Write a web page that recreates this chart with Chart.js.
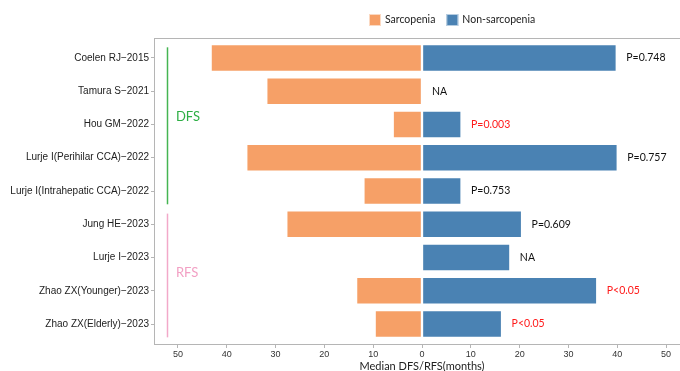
<!DOCTYPE html>
<html>
<head>
<meta charset="utf-8">
<script src="https://cdn.jsdelivr.net/npm/chart.js@4/dist/chart.umd.min.js"></script>
<style>
  html, body { margin: 0; padding: 0; background: #fff; overflow: hidden; }
  #wrap { position: relative; width: 700px; height: 374px; }
</style>
</head>
<body>
<div id="wrap"><canvas id="chart"></canvas></div>
<script>
// Studies (top to bottom)
const studies = [
  "Coelen RJ\u22122015",
  "Tamura S\u22122021",
  "Hou GM\u22122022",
  "Lurje I(Perihilar CCA)\u22122022",
  "Lurje I(Intrahepatic CCA)\u22122022",
  "Jung HE\u22122023",
  "Lurje I\u22122023",
  "Zhao ZX(Younger)\u22122023",
  "Zhao ZX(Elderly)\u22122023"
];
// Median DFS/RFS in months; null = not reported
const sarcopenia    = [43.2, 31.8, 5.9, 35.9, 11.9, 27.7, null, 13.4, 9.6];
const nonSarcopenia = [39.8, null, 8.0, 40.0, 8.0, 20.4, 18.0, 35.8, 16.3];
// P values between groups
const pValues = ["P=0.748", "NA", "P=0.003", "P=0.757", "P=0.753", "P=0.609", "NA", "P<0.05", "P<0.05"];
// Outcome groups over study indices
const outcomeGroups = [
  { name: "DFS", first: 0, last: 4 },
  { name: "RFS", first: 5, last: 8 }
];
const xTicks = [-50, -40, -30, -20, -10, 0, 10, 20, 30, 40, 50];

const ORANGE = "#F6A067";
const BLUE = "#4A82B3";
const LABEL_FONT = "Lato, 'Noto Sans', sans-serif";

function toPoints(values, sign) {
  return values
    .map((v, i) => (v === null ? null : { x: sign * v, y: i }))
    .filter(p => p !== null);
}

function isSignificant(label) {
  if (label.startsWith("P<")) return true;
  const m = label.match(/^P=([\d.]+)/);
  return m ? parseFloat(m[1]) < 0.05 : false;
}

// Panel border
const panelBorder = {
  id: "panelBorder",
  afterDraw(chart) {
    const { ctx, chartArea: a } = chart;
    ctx.save();
    ctx.strokeStyle = "#b5b5b5";
    ctx.lineWidth = 1;
    ctx.strokeRect(Math.round(a.left) + 0.5, Math.round(a.top) + 0.5,
                   Math.round(a.right - a.left), Math.round(a.bottom - a.top));
    ctx.restore();
  }
};

// P-value text to the right of each row
const pValueLabels = {
  id: "pValueLabels",
  afterDatasetsDraw(chart) {
    const { ctx, scales: { x, y } } = chart;
    ctx.save();
    ctx.font = "10.5px " + LABEL_FONT;
    ctx.textAlign = "left";
    ctx.textBaseline = "middle";
    pValues.forEach((label, i) => {
      const end = nonSarcopenia[i] === null ? 0 : nonSarcopenia[i];
      ctx.fillStyle = isSignificant(label) ? "#FF1A1A" : "#111";
      ctx.fillText(label, x.getPixelForValue(end) + 10, y.getPixelForValue(i));
    });
    ctx.restore();
  }
};

// DFS / RFS bracket lines with their names
const groupBrackets = {
  id: "groupBrackets",
  afterDatasetsDraw(chart, args, opts) {
    const { ctx, scales: { x, y } } = chart;
    ctx.save();
    outcomeGroups.forEach((g, k) => {
      const st = opts.styles[k];
      const px = Math.round(x.getPixelForValue(opts.lineAt)) + 0.5;
      ctx.strokeStyle = st.line;
      ctx.lineWidth = 1.5;
      ctx.beginPath();
      ctx.moveTo(px, y.getPixelForValue(g.first - 0.32));
      ctx.lineTo(px, y.getPixelForValue(g.last + 0.4));
      ctx.stroke();
      ctx.fillStyle = st.text;
      ctx.font = "13px " + LABEL_FONT;
      ctx.textAlign = "left";
      ctx.textBaseline = "middle";
      ctx.fillText(g.name, x.getPixelForValue(opts.textAt), y.getPixelForValue(st.textRow));
    });
    ctx.restore();
  }
};

// Legend above the panel
const topLegend = {
  id: "topLegend",
  afterDraw(chart, args, opts) {
    const { ctx } = chart;
    ctx.save();
    ctx.font = "10.5px " + LABEL_FONT;
    ctx.textBaseline = "middle";
    ctx.textAlign = "left";
    let cx = opts.x;
    chart.data.datasets.forEach(ds => {
      ctx.fillStyle = ds.backgroundColor;
      ctx.fillRect(cx, opts.y - 6, 12, 12);
      ctx.strokeStyle = "rgba(255,255,255,0.6)";
      ctx.lineWidth = 1;
      ctx.strokeRect(cx + 0.5, opts.y - 5.5, 11, 11);
      ctx.fillStyle = "#222";
      ctx.fillText(ds.label, cx + 16, opts.y);
      cx += 16 + ctx.measureText(ds.label).width + 11;
    });
    ctx.restore();
  }
};

new Chart(document.getElementById("chart"), {
  type: "bar",
  data: {
    datasets: [
      {
        label: "Sarcopenia",
        data: toPoints(sarcopenia, -1),
        backgroundColor: ORANGE,
        borderColor: "rgba(255,255,255,0.35)",
        borderWidth: 1,
        borderSkipped: false,
        barThickness: 27
      },
      {
        label: "Non-sarcopenia",
        data: toPoints(nonSarcopenia, 1),
        backgroundColor: BLUE,
        borderColor: "rgba(255,255,255,0.35)",
        borderWidth: 1,
        borderSkipped: false,
        barThickness: 27
      }
    ]
  },
  options: {
    indexAxis: "y",
    responsive: true,
    maintainAspectRatio: false,
    animation: false,
    layout: { padding: { top: 38, right: 10, left: 0, bottom: 0 } },
    plugins: {
      legend: { display: false },
      tooltip: { enabled: false },
      topLegend: { x: 369, y: 20 },
      groupBrackets: {
        lineAt: -52.3,
        textAt: -50.4,
        styles: [
          { line: "#45B552", text: "#2EAF45", textRow: 1.77 },
          { line: "#F2A9C9", text: "#F2A0C4", textRow: 6.47 }
        ]
      }
    },
    scales: {
      x: {
        type: "linear",
        stacked: true,
        min: -54.9,
        max: 54.9,
        offset: false,
        afterBuildTicks(scale) { scale.ticks = xTicks.map(v => ({ value: v })); },
        afterFit(scale) { scale.height = 30; },
        ticks: {
          callback: v => String(Math.abs(v)),
          color: "#333",
          font: { family: "'Liberation Sans', Arial, sans-serif", size: 9 },
          padding: 1,
          maxRotation: 0
        },
        grid: { drawOnChartArea: false, offset: false, tickLength: 4, color: "#b5b5b5" },
        border: { display: false },
        title: {
          display: true,
          text: "Median DFS/RFS(months)",
          color: "#222",
          font: { family: LABEL_FONT, size: 11 },
          padding: { top: 0, bottom: 1 }
        }
      },
      y: {
        type: "linear",
        stacked: true,
        reverse: true,
        min: -0.6,
        max: 8.6,
        offset: false,
        afterBuildTicks(scale) { scale.ticks = studies.map((_, i) => ({ value: i })); },
        afterFit(scale) { scale.width = 154; },
        ticks: {
          callback: v => studies[v],
          color: "#222",
          font: { family: "'Liberation Sans', Arial, sans-serif", size: 10 },
          padding: 2
        },
        grid: { drawOnChartArea: false, offset: false, tickLength: 3, color: "#b5b5b5" },
        border: { display: false }
      }
    }
  },
  plugins: [panelBorder, groupBrackets, pValueLabels, topLegend]
});
</script>
</body>
</html>
